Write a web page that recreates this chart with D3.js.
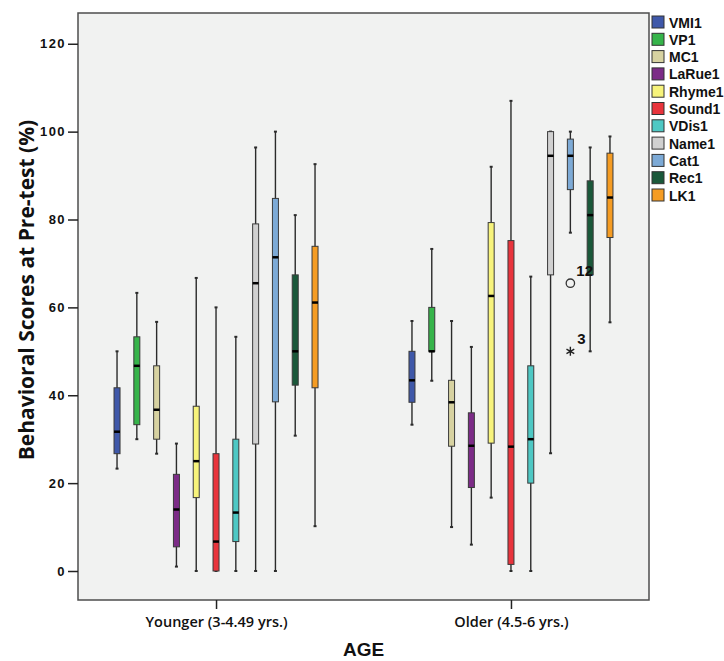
<!DOCTYPE html>
<html>
<head>
<meta charset="UTF-8">
<title>Behavioral Scores at Pre-test by Age</title>
<script src="https://d3js.org/d3.v7.min.js"></script>
<style>
  body { margin: 0; background: #fff; }
  svg { display: block; }
</style>
</head>
<body>
<div id="chart"></div>
<script>
// categories on the x axis
var groups = ["Younger (3-4.49 yrs.)", "Older (4.5-6 yrs.)"];

// one box per measure inside each age group
var measures = ["VMI1", "VP1", "MC1", "LaRue1", "Rhyme1", "Sound1", "VDis1", "Name1", "Cat1", "Rec1", "LK1"];
var colors = ["#3f58a9", "#36b44a", "#d7d2a1", "#7c2b87", "#f7f37b", "#e8343c",
              "#4ec8c4", "#d0d0d0", "#7daad6", "#1a583a", "#f59c23"];

// [min, q1, median, q3, max]
var younger = [
  [23.3, 26.7, 31.7, 41.7, 50.0],
  [30.0, 33.3, 46.7, 53.3, 63.3],
  [26.7, 30.0, 36.7, 46.7, 56.7],
  [1.0, 5.5, 14.0, 22.0, 29.0],
  [0.0, 16.7, 25.0, 37.5, 66.7],
  [0.0, 0.0, 6.7, 26.7, 60.0],
  [0.0, 6.7, 13.3, 30.0, 53.3],
  [0.0, 28.9, 65.5, 79.0, 96.4],
  [0.0, 38.5, 71.4, 84.8, 100.0],
  [30.8, 42.3, 50.0, 67.4, 81.0],
  [10.2, 41.7, 61.1, 73.9, 92.6]
];
var older = [
  [33.3, 38.4, 43.4, 50.0, 56.9],
  [43.3, 50.0, 50.0, 60.0, 73.3],
  [10.0, 28.4, 38.4, 43.4, 56.9],
  [6.0, 19.0, 28.5, 36.0, 51.0],
  [16.7, 29.1, 62.6, 79.3, 92.0],
  [0.0, 1.5, 28.3, 75.2, 107.0],
  [0.0, 20.0, 30.0, 46.7, 67.0],
  [26.8, 67.4, 94.5, 100.0, 100.0],
  [77.0, 86.8, 94.5, 98.3, 100.0],
  [50.0, 67.4, 81.0, 88.8, 96.4],
  [56.6, 75.9, 85.0, 95.1, 98.9]
];

// outliers (older group, Cat1)
var outGroup = ["Older (4.5-6 yrs.)", "Older (4.5-6 yrs.)"];
var outMeasure = ["Cat1", "Cat1"];
var outValue = [65.5, 50.0];
var outLabel = ["12", "3"];
var outShape = ["circle", "star"];

var yTicks = [0, 20, 40, 60, 80, 100, 120];

var W = 724, H = 661;
var plot = {left: 78, right: 649, top: 13, bottom: 600};

var svg = d3.select("#chart").append("svg")
  .attr("width", W)
  .attr("height", H);

var y = d3.scaleLinear()
  .domain([-6.6, 127])
  .range([plot.bottom, plot.top]);

var xGroup = d3.scalePoint()
  .domain(groups)
  .range([plot.left, plot.right])
  .padding(0.468);

var xMeasure = d3.scalePoint()
  .domain(measures)
  .range([-99, 99]);

var color = d3.scaleOrdinal().domain(measures).range(colors);

// plot background + frame
svg.append("rect")
  .attr("x", plot.left)
  .attr("y", plot.top)
  .attr("width", plot.right - plot.left)
  .attr("height", plot.bottom - plot.top)
  .attr("fill", "#f1f2f1")
  .attr("stroke", "#4d4d4d")
  .attr("stroke-width", 1.5);

// y axis
var yAxis = svg.append("g")
  .attr("transform", "translate(" + plot.left + ",0)")
  .call(d3.axisLeft(y).tickValues(yTicks).tickSize(10).tickPadding(2));
yAxis.select(".domain").remove();
yAxis.selectAll(".tick line").attr("stroke", "#222").attr("stroke-width", 1.5);
yAxis.selectAll(".tick text")
  .attr("fill", "#111")
  .style("font-family", "'Liberation Sans', Arial, sans-serif")
  .style("font-weight", "bold")
  .style("font-size", "13px")
  .style("letter-spacing", "1.4px");

// x axis
var xAxis = svg.append("g")
  .attr("transform", "translate(0," + plot.bottom + ")")
  .call(d3.axisBottom(xGroup).tickSize(9).tickPadding(8));
xAxis.select(".domain").remove();
xAxis.selectAll(".tick line").attr("stroke", "#222").attr("stroke-width", 1.5);
xAxis.selectAll(".tick text")
  .attr("fill", "#111")
  .style("font-family", "'Open Sans', sans-serif")
  .style("font-weight", "600")
  .style("font-size", "14.5px");

// axis titles
svg.append("text")
  .attr("transform", "translate(34,290) rotate(-90)")
  .attr("text-anchor", "middle")
  .style("font-family", "'Open Sans', sans-serif")
  .style("font-weight", "bold")
  .style("font-size", "21px")
  .attr("fill", "#111")
  .text("Behavioral Scores at Pre-test (%)");

svg.append("text")
  .attr("x", (plot.left + plot.right) / 2)
  .attr("y", 656)
  .attr("text-anchor", "middle")
  .style("font-family", "'Liberation Sans', Arial, sans-serif")
  .style("font-weight", "bold")
  .style("font-size", "19px")
  .attr("fill", "#111")
  .text("AGE");

// boxes
var rows = [];
groups.forEach(function(g, gi) {
  var stats = gi === 0 ? younger : older;
  measures.forEach(function(m, mi) {
    var s = stats[mi];
    rows.push({group: g, measure: m, min: s[0], q1: s[1], med: s[2], q3: s[3], max: s[4]});
  });
});

var bw = 6;
var box = svg.append("g").selectAll("g")
  .data(rows)
  .enter().append("g")
  .attr("transform", function(d) { return "translate(" + (xGroup(d.group) + xMeasure(d.measure)) + ",0)"; });

box.append("line")
  .attr("x1", 0).attr("x2", 0)
  .attr("y1", function(d) { return y(d.min); })
  .attr("y2", function(d) { return y(d.max); })
  .attr("stroke", "#2b2b2b")
  .attr("stroke-width", 1.4);

box.append("line")
  .attr("x1", -1.5).attr("x2", 1.5)
  .attr("y1", function(d) { return y(d.min); })
  .attr("y2", function(d) { return y(d.min); })
  .attr("stroke", "#2b2b2b")
  .attr("stroke-width", 2);

box.append("line")
  .attr("x1", -1.5).attr("x2", 1.5)
  .attr("y1", function(d) { return y(d.max); })
  .attr("y2", function(d) { return y(d.max); })
  .attr("stroke", "#2b2b2b")
  .attr("stroke-width", 2);

box.append("rect")
  .attr("x", -bw / 2)
  .attr("width", bw)
  .attr("y", function(d) { return y(d.q3); })
  .attr("height", function(d) { return Math.max(y(d.q1) - y(d.q3), 0.5); })
  .attr("fill", function(d) { return color(d.measure); })
  .attr("stroke", "#3a3a3a")
  .attr("stroke-width", 1);

box.append("line")
  .attr("x1", -bw / 2).attr("x2", bw / 2)
  .attr("y1", function(d) { return y(d.med); })
  .attr("y2", function(d) { return y(d.med); })
  .attr("stroke", "#000")
  .attr("stroke-width", 2.5);

// outliers
outValue.forEach(function(v, i) {
  var cx = xGroup(outGroup[i]) + xMeasure(outMeasure[i]);
  var cy = y(v);
  if (outShape[i] === "circle") {
    svg.append("circle")
      .attr("cx", cx).attr("cy", cy).attr("r", 4.2)
      .attr("fill", "none")
      .attr("stroke", "#333")
      .attr("stroke-width", 1.3);
    svg.append("text")
      .attr("x", cx + 6).attr("y", cy - 7)
      .style("font-family", "'Liberation Sans', Arial, sans-serif")
      .style("font-weight", "bold")
      .style("font-size", "15px")
      .attr("fill", "#111")
      .text(outLabel[i]);
  } else {
    var r = 4.5, p = "";
    [90, 30, -30].forEach(function(a) {
      var t = a * Math.PI / 180;
      p += "M" + (cx - r * Math.cos(t)) + "," + (cy - r * Math.sin(t)) +
           "L" + (cx + r * Math.cos(t)) + "," + (cy + r * Math.sin(t));
    });
    svg.append("path").attr("d", p).attr("stroke", "#222").attr("stroke-width", 1.4);
    svg.append("text")
      .attr("x", cx + 7).attr("y", cy - 7)
      .style("font-family", "'Liberation Sans', Arial, sans-serif")
      .style("font-weight", "bold")
      .style("font-size", "15px")
      .attr("fill", "#111")
      .text(outLabel[i]);
  }
});

// legend
var legend = svg.append("g").attr("transform", "translate(652,16)")
  .selectAll("g")
  .data(measures)
  .enter().append("g")
  .attr("transform", function(d, i) { return "translate(0," + (i * 17.3) + ")"; });

legend.append("rect")
  .attr("width", 12).attr("height", 12)
  .attr("fill", function(d) { return color(d); })
  .attr("stroke", "#333")
  .attr("stroke-width", 1);

legend.append("text")
  .attr("x", 17).attr("y", 11.5)
  .style("font-family", "'Liberation Sans', Arial, sans-serif")
  .style("font-weight", "bold")
  .style("font-size", "14px")
  .attr("fill", "#111")
  .text(function(d) { return d; });
</script>
</body>
</html>
